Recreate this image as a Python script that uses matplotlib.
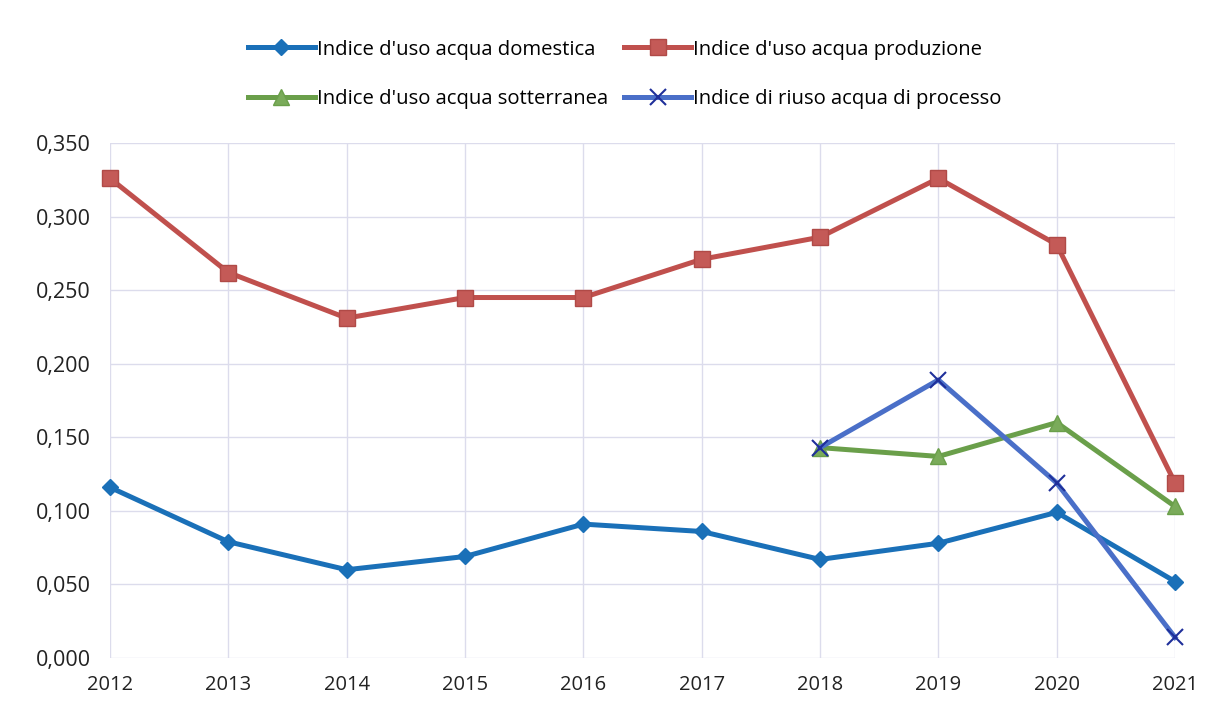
import matplotlib
matplotlib.use("Agg")
import matplotlib.pyplot as plt
from matplotlib.ticker import FuncFormatter, MultipleLocator

years = [2012, 2013, 2014, 2015, 2016, 2017, 2018, 2019, 2020, 2021]
domestica = [0.116, 0.079, 0.060, 0.069, 0.091, 0.086, 0.067, 0.078, 0.099, 0.052]
produzione = [0.326, 0.262, 0.231, 0.245, 0.245, 0.271, 0.286, 0.326, 0.281, 0.119]
years_sub = [2018, 2019, 2020, 2021]
sotterranea = [0.143, 0.137, 0.160, 0.103]
riuso = [0.143, 0.189, 0.119, 0.014]

labels = ["Indice d'uso acqua domestica", "Indice d'uso acqua produzione",
          "Indice d'uso acqua sotterranea", "Indice di riuso acqua di processo"]

plt.rcParams['font.family'] = ['Open Sans', 'DejaVu Sans']

fig = plt.figure(figsize=(12.13, 7.14), dpi=100)
ax = fig.add_axes([0.0907, 0.0784, 0.8780, 0.7213])

l1, = ax.plot(years, domestica, color='#1a70b8', lw=3.6, marker='D', ms=8.5,
              mfc='#1a70b8', mec='#1a70b8', clip_on=False, zorder=3)
l2, = ax.plot(years, produzione, color='#c0504d', lw=3.6, marker='s', ms=11,
              mfc='#c45a57', mec='#b04a47', clip_on=False, zorder=3)
l3, = ax.plot(years_sub, sotterranea, color='#6a9f4a', lw=3.6, marker='^', ms=11,
              mfc='#7aab5a', mec='#6a9f4a', clip_on=False, zorder=3)
l4, = ax.plot(years_sub, riuso, color='#4a6fc8', lw=3.6, marker='x', ms=12,
              mew=1.5, mec='#1f2f9a', clip_on=False, zorder=4)

ax.set_xlim(2012, 2021)
ax.set_ylim(0, 0.35)
ax.set_xticks(years)
ax.yaxis.set_major_locator(MultipleLocator(0.05))
ax.yaxis.set_major_formatter(FuncFormatter(lambda v, p: f"{v:.3f}".replace('.', ',')))
ax.grid(True, color='#dcdcec', lw=1.0)
ax.set_axisbelow(True)
for s in ax.spines.values():
    s.set_visible(False)
ax.tick_params(length=0, colors='#222222')
ax.tick_params(axis='y', pad=14, labelsize=15.5)
ax.tick_params(axis='x', pad=12, labelsize=14.5)

# row-wise order for a 2-column legend
fig.legend([l1, l3, l2, l4], [labels[0], labels[2], labels[1], labels[3]],
           loc='center', bbox_to_anchor=(0.515, 0.896),
           ncol=2, frameon=False, fontsize=14.6, handlelength=3.3,
           columnspacing=0.8, handletextpad=0.1, labelspacing=1.45)

fig.savefig('out.png', dpi=100, facecolor='white')
